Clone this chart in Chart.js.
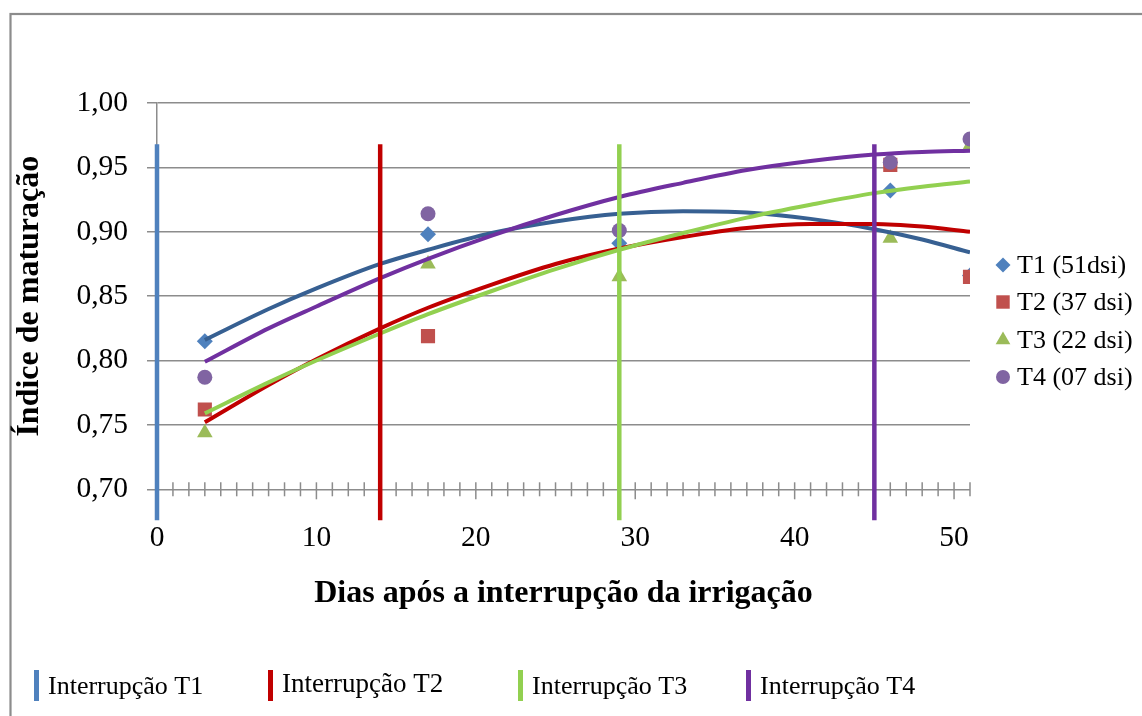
<!DOCTYPE html>
<html>
<head>
<meta charset="utf-8">
<script src="https://cdn.jsdelivr.net/npm/chart.js@4.4.1/dist/chart.umd.min.js"></script>
<style>
  html, body { margin: 0; padding: 0; background: #fff; }
  #wrap { width: 1142px; height: 716px; position: relative; }
</style>
</head>
<body>
<div id="wrap"><canvas id="chart" width="1142" height="716"></canvas></div>
<script>
// sampled maturation index per treatment (null = not visible in the figure)
const sampleDays = [3, 17, 29, 46, 51];
const t1Values = [0.815, 0.898, 0.891, 0.932, 0.866];
const t2Values = [0.762, 0.819, null, 0.952, 0.865];
const t3Values = [0.744, 0.875, 0.865, 0.895, 0.967];
const t4Values = [0.787, 0.914, 0.901, 0.954, 0.972];
const seriesLabels = ['T1 (51dsi)', 'T2 (37 dsi)', 'T3 (22 dsi)', 'T4 (07 dsi)'];

// trendlines
const trendDays = [3, 7, 10, 14, 17, 21, 25, 29, 33, 37, 41, 45, 48, 51];
const t1Trend = [0.816, 0.840, 0.856, 0.875, 0.886, 0.899, 0.908, 0.914, 0.916, 0.915, 0.910, 0.902, 0.894, 0.884];
const t2Trend = [0.752, 0.781, 0.801, 0.825, 0.841, 0.859, 0.875, 0.887, 0.896, 0.903, 0.906, 0.906, 0.904, 0.900];
const t3Trend = [0.759, 0.783, 0.800, 0.821, 0.836, 0.854, 0.871, 0.886, 0.899, 0.911, 0.921, 0.930, 0.935, 0.939];
const t4Trend = [0.799, 0.825, 0.842, 0.864, 0.879, 0.897, 0.913, 0.927, 0.938, 0.948, 0.955, 0.960, 0.962, 0.963];

// irrigation interruption markers
const interruptDays = [0, 14, 29, 45];
const interruptLabels = ['Interrupção T1', 'Interrupção T2', 'Interrupção T3', 'Interrupção T4'];
const interruptLow = 0.676;
const interruptHigh = 0.968;

const xTicks = [0, 10, 20, 30, 40, 50];
const yTicks = [0.70, 0.75, 0.80, 0.85, 0.90, 0.95, 1.00];

const serif = '"Liberation Serif", "Times New Roman", serif';
const markerColors = ['#4F81BD', '#C0504D', '#9BBB59', '#8064A2'];
const markerStyles = ['rectRot', 'rect', 'triangle', 'circle'];
const markerSizes = [8, 10, 9, 7.5];
const trendColors = ['#376092', '#C00000', '#92D050', '#7030A0'];
const interruptColors = ['#4F81BD', '#C00000', '#92D050', '#7030A0'];

const toPoints = (xs, ys) => xs.map((x, i) => ({ x: x, y: ys[i] }));

const valueSets = [t1Values, t2Values, t3Values, t4Values];
const trendSets = [t1Trend, t2Trend, t3Trend, t4Trend];

const datasets = [];

interruptDays.forEach((d, i) => {
  datasets.push({
    kind: 'interrupt',
    label: interruptLabels[i],
    data: [{ x: d, y: interruptLow }, { x: d, y: interruptHigh }],
    borderColor: interruptColors[i],
    borderWidth: 4.5,
    pointRadius: 0,
    clip: false,
    order: 1 + i
  });
});

trendSets.forEach((vals, i) => {
  datasets.push({
    kind: 'trend',
    label: seriesLabels[i] + ' trend',
    data: toPoints(trendDays, vals),
    borderColor: trendColors[i],
    borderWidth: 4,
    pointRadius: 0,
    tension: 0.4,
    cubicInterpolationMode: 'monotone',
    order: 10 - i
  });
});

valueSets.forEach((vals, i) => {
  datasets.push({
    kind: 'points',
    label: seriesLabels[i],
    data: toPoints(sampleDays, vals),
    showLine: false,
    pointStyle: markerStyles[i],
    pointRadius: markerSizes[i],
    pointBackgroundColor: markerColors[i],
    pointBorderWidth: 0,
    borderColor: markerColors[i],
    order: 20 - i
  });
});

const framePlugin = {
  id: 'frame',
  beforeDraw(chart) {
    const ctx = chart.ctx;
    ctx.save();
    ctx.strokeStyle = '#8c8c8c';
    ctx.lineWidth = 2.2;
    ctx.strokeRect(10.5, 14, 1300, 900);
    ctx.restore();
  }
};

const dayTicksPlugin = {
  id: 'dayTicks',
  beforeDatasetsDraw(chart) {
    const x = chart.scales.x;
    const y0 = chart.scales.y.getPixelForValue(yTicks[0]);
    const ctx = chart.ctx;
    ctx.save();
    ctx.strokeStyle = '#8c8c8c';
    ctx.lineWidth = 1.5;
    for (let d = x.min; d <= x.max; d++) {
      const px = x.getPixelForValue(d);
      ctx.beginPath();
      ctx.moveTo(px, y0 - 7);
      ctx.lineTo(px, y0 + (d % 10 === 0 ? 10 : 7));
      ctx.stroke();
    }
    ctx.restore();
  }
};

const drawMarker = (ctx, style, r, cx, cy) => {
  if (Chart.helpers && Chart.helpers.drawPoint) {
    Chart.helpers.drawPoint(ctx, { pointStyle: style, radius: r, rotation: 0, borderWidth: 0 }, cx, cy);
  } else {
    ctx.beginPath();
    ctx.arc(cx, cy, r, 0, Math.PI * 2);
    ctx.fill();
  }
};

const legendsPlugin = {
  id: 'legends',
  afterDraw(chart) {
    const ctx = chart.ctx;
    ctx.save();
    ctx.textBaseline = 'middle';
    ctx.textAlign = 'left';
    ctx.fillStyle = '#000';

    // right legend: sampled series
    const pts = chart.data.datasets.filter(ds => ds.kind === 'points');
    const rowY = [265, 302, 340, 377];
    const legendMarkerSizes = [7.5, 9.5, 8.5, 7];
    pts.forEach((ds, i) => {
      ctx.fillStyle = ds.pointBackgroundColor;
      drawMarker(ctx, ds.pointStyle, legendMarkerSizes[i], 1003, rowY[i]);
      ctx.fillStyle = '#000';
      ctx.font = '26px ' + serif;
      ctx.fillText(ds.label, 1017, rowY[i] + 1);
    });

    // bottom legend: interruption lines
    const lines = chart.data.datasets.filter(ds => ds.kind === 'interrupt');
    const itemX = [34, 268, 518, 746];
    lines.forEach((ds, i) => {
      ctx.fillStyle = ds.borderColor;
      ctx.fillRect(itemX[i], 670, 5, 31);
      ctx.fillStyle = '#000';
      ctx.font = (i === 1 ? '27px ' : '26px ') + serif;
      ctx.textBaseline = 'alphabetic';
      ctx.fillText(ds.label, itemX[i] + 14, i === 1 ? 692 : 694);
    });
    ctx.restore();
  }
};

new Chart(document.getElementById('chart'), {
  type: 'line',
  data: { datasets: datasets },
  options: {
    responsive: false,
    animation: false,
    events: [],
    devicePixelRatio: 1,
    layout: { padding: { top: 103, right: 172, bottom: 102.8, left: 0 } },
    plugins: {
      legend: { display: false },
      tooltip: { enabled: false }
    },
    scales: {
      x: {
        type: 'linear',
        min: 0,
        max: 51,
        afterBuildTicks: s => { s.ticks = xTicks.map(v => ({ value: v })); },
        afterFit: s => { s.height = 123.9; },
        grid: { display: false, drawTicks: false },
        border: { display: false },
        ticks: {
          color: '#000',
          padding: 31,
          maxRotation: 0,
          font: { family: serif, size: 29.5 }
        },
        title: {
          display: true,
          text: 'Dias após a interrupção da irrigação',
          color: '#000',
          padding: 0,
          font: { family: serif, size: 32, weight: 'bold' }
        }
      },
      y: {
        min: 0.70,
        max: 1.00,
        afterBuildTicks: s => { s.ticks = yTicks.map(v => ({ value: v })); },
        afterFit: s => { s.width = 157; },
        grid: { color: '#8c8c8c', lineWidth: 1.5, tickLength: 10 },
        border: { display: true, color: '#8c8c8c', width: 1.5 },
        ticks: {
          color: '#000',
          padding: 19,
          font: { family: serif, size: 29.5 },
          callback: v => v.toFixed(2).replace('.', ',')
        },
        title: {
          display: true,
          text: 'Índice de maturação',
          color: '#000',
          padding: { top: 11 },
          font: { family: serif, size: 32, weight: 'bold' }
        }
      }
    }
  },
  plugins: [framePlugin, dayTicksPlugin, legendsPlugin]
});
</script>
</body>
</html>
